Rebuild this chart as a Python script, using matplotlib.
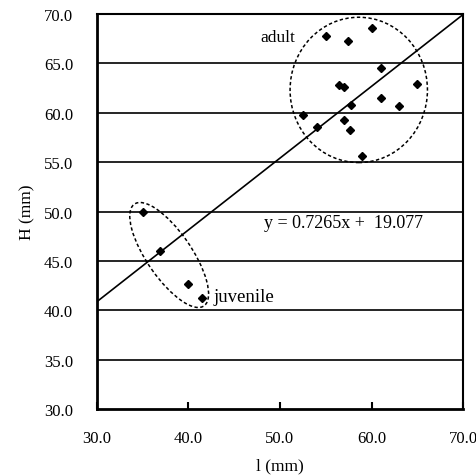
import matplotlib
matplotlib.use('Agg')
import matplotlib.pyplot as plt
from matplotlib.patches import Ellipse
import numpy as np

plt.rcParams['font.family'] = ['Liberation Serif', 'DejaVu Serif']

# juvenile and adult measurements (l, H) in mm
juvenile_l = [35.0, 36.9, 40.0, 41.5]
juvenile_h = [50.0, 46.0, 42.7, 41.2]

adult_l = [55.0, 57.4, 60.0, 61.0, 56.4, 57.0, 65.0, 61.0, 57.8, 63.0,
           52.5, 54.0, 57.0, 57.6, 59.0]
adult_h = [67.8, 67.2, 68.6, 64.5, 62.8, 62.6, 62.9, 61.5, 60.8, 60.7,
           59.8, 58.5, 59.3, 58.2, 55.6]

slope = 0.7265
intercept = 19.077

x_ticks = [30.0, 40.0, 50.0, 60.0, 70.0]
y_ticks = [30.0, 35.0, 40.0, 45.0, 50.0, 55.0, 60.0, 65.0, 70.0]

fig = plt.figure(figsize=(4.77, 4.77), dpi=100)
ax = fig.add_axes([0.203, 0.140, 0.768, 0.829])

for y in y_ticks[1:]:
    ax.axhline(y, color='black', linewidth=1.2, zorder=1)

xs = np.array([30.0, 70.0])
ax.plot(xs, slope * xs + intercept, color='black', linewidth=1.2, zorder=2)

all_l = juvenile_l + adult_l
all_h = juvenile_h + adult_h
ax.plot(all_l, all_h, linestyle='none', marker='D', markersize=4.4,
        color='black', zorder=3)

dash = (0, (2.2, 1.6))
ax.add_patch(Ellipse((58.6, 62.3), 15.0, 14.7, fill=False, edgecolor='black',
                     linestyle=dash, linewidth=1.1, zorder=2))
ax.add_patch(Ellipse((37.9, 45.6), 12.8, 4.8, angle=-53, fill=False,
                     edgecolor='black', linestyle=dash, linewidth=1.1, zorder=2))

ax.text(47.9, 67.7, 'adult', fontsize=12.5, va='center', ha='left')
ax.text(42.7, 41.4, 'juvenile', fontsize=13.5, va='center', ha='left')
ax.text(48.3, 48.9, 'y = 0.7265x +  19.077', fontsize=13, va='center', ha='left')

ax.set_xlim(30, 70)
ax.set_ylim(30, 70)
ax.set_xticks(x_ticks)
ax.set_yticks(y_ticks)
ax.set_xticklabels([f'{v:.1f}' for v in x_ticks], fontsize=12)
ax.set_yticklabels([f'{v:.1f}' for v in y_ticks], fontsize=12)
ax.tick_params(axis='x', direction='in', length=5, width=1.5, pad=15)
ax.tick_params(axis='y', direction='in', length=0, pad=17)

ax.spines['left'].set_linewidth(2)
ax.spines['bottom'].set_linewidth(2)
ax.spines['right'].set_linewidth(1.5)
ax.spines['top'].set_linewidth(1.5)

ax.set_xlabel('l (mm)', fontsize=12.5, labelpad=8)
ax.set_ylabel('H (mm)', fontsize=12.5, labelpad=6)

fig.savefig('out.png', dpi=100)
